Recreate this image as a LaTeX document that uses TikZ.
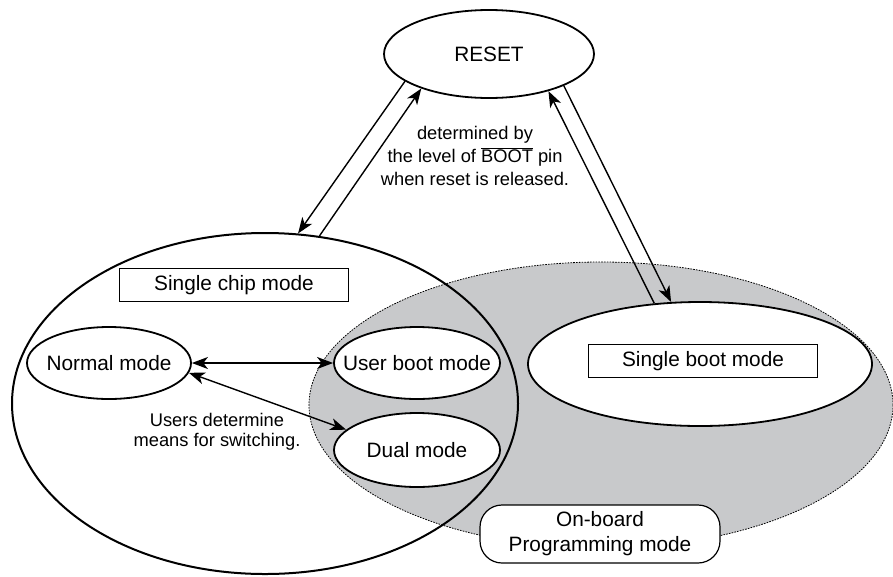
\documentclass[tikz,border=0pt]{standalone}
\usepackage{fontspec}
\setmainfont{Liberation Sans}
\usetikzlibrary{shapes.geometric,arrows.meta}

\definecolor{boardgray}{RGB}{200,201,203}

\begin{document}
\begin{tikzpicture}[x=1pt, y=-1pt,
    bigtext/.style={font=\fontsize{20.8}{24}\selectfont},
    smalltext/.style={font=\fontsize{18.3}{23.3}\selectfont, align=center},
    mode/.style={ellipse, draw, line width=1.8pt, fill=white, inner sep=0pt},
    modebox/.style={draw, line width=1.4pt, minimum width=229pt, minimum height=33pt, inner sep=0pt, bigtext},
    link/.style={line width=1.4pt},
    tip/.tip={Stealth[length=16pt, width=12pt, inset=4.5pt]}]

    \useasboundingbox (0,0) rectangle (893,576);

    % On-board programming area and single chip area
    \node[ellipse, draw, fill=boardgray, line width=0.8pt, dash pattern=on 1.6pt off 1.2pt,
          minimum width=584pt, minimum height=286pt, inner sep=0pt] (board) at (601,405) {};
    \node[ellipse, draw, line width=2pt, minimum width=506pt, minimum height=341pt, inner sep=0pt] (chip) at (265,403.5) {};

    % Modes
    \node[mode, minimum width=210pt, minimum height=88pt, label={[bigtext]center:RESET}] (reset) at (489,54) {};
    \node[mode, minimum width=344pt, minimum height=124pt] (boot) at (700,364) {};
    \node[modebox, fill=white] (bootbox) at (703,361) {Single boot mode};
    \node[modebox] (chipbox) at (234,285) {Single chip mode};
    \node[mode, minimum width=164pt, minimum height=72pt, label={[bigtext]center:Normal mode}] (normal) at (109,363) {};
    \node[mode, minimum width=166pt, minimum height=72pt, label={[bigtext]center:User boot mode}] (userboot) at (417,363) {};
    \node[mode, minimum width=166pt, minimum height=74pt, label={[bigtext]center:Dual mode}] (dual) at (417,450) {};
    \node[draw, fill=white, rounded corners=22pt, line width=1.2pt, minimum width=240pt, minimum height=58pt,
          inner sep=0pt, align=center, font=\fontsize{20.8}{25}\selectfont] (onboard) at (600,534) {On-board\\Programming mode};

    % Transitions from and to RESET
    \draw[link, -tip] (reset.198) -- (chip.79);
    \draw[link, -tip] (chip.72) -- (reset.207);
    \draw[link, -tip] (reset.337) -- (boot.115);
    \draw[link, -tip] (boot.127) -- (reset.328);

    % Switching inside single chip mode
    \draw[link, tip-tip] (normal.east) -- (userboot.west);
    \draw[link, tip-tip] (normal.-7) -- (dual.164);

    \node[smalltext] (resetnote) at (475,156) {determined by\\the level of $\overline{\mbox{BOOT}}$ pin\\when reset is released.};
    \node[smalltext, font=\fontsize{18.3}{20}\selectfont] (switchnote) at (217,432) {Users determine\\means for switching.};

\end{tikzpicture}
\end{document}
